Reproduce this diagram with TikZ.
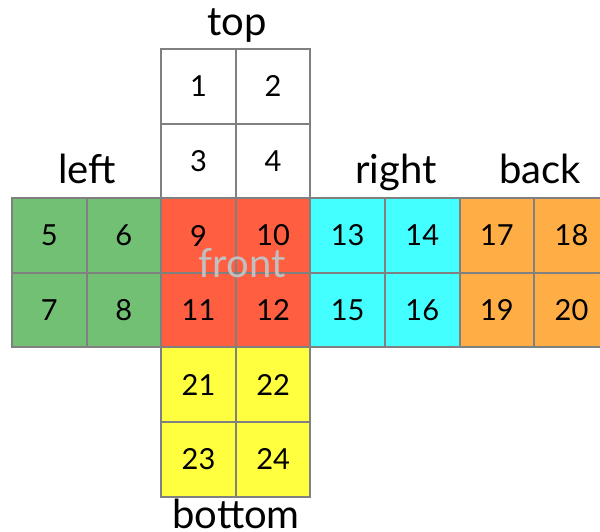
\documentclass[tikz,border=0pt]{standalone}
\usepackage{fontspec}
\setmainfont{Lato}
\definecolor{cgreen}{RGB}{114,192,116}
\definecolor{cred}{RGB}{255,94,64}
\definecolor{ccyan}{RGB}{68,255,255}
\definecolor{corange}{RGB}{255,173,69}
\definecolor{cyellow}{RGB}{255,255,64}
\definecolor{cline}{RGB}{128,128,128}
\definecolor{cfront}{RGB}{192,192,192}
\tikzset{
  cell/.style={draw=cline, line width=2pt, minimum width=74.6pt, minimum height=74.6pt,
    inner sep=0pt, font=\fontsize{29}{29}\selectfont},
  facelabel/.style={anchor=base, inner sep=0pt, font=\fontsize{40}{40}\selectfont},
}
\begin{document}
\begin{tikzpicture}[x=1pt,y=-1pt]
\useasboundingbox (0,0) rectangle (600,531);
\fill[white] (0,0) rectangle (600,531);
\def\s{74.6}
% cell centres: x = 12 + s*(col+0.5), y = 49 + s*(row+0.5)
\foreach \n/\c/\r/\col in {
  1/2/0/white, 2/3/0/white, 3/2/1/white, 4/3/1/white,
  5/0/2/cgreen, 6/1/2/cgreen, 7/0/3/cgreen, 8/1/3/cgreen,
  9/2/2/cred, 10/3/2/cred, 11/2/3/cred, 12/3/3/cred,
  13/4/2/ccyan, 14/5/2/ccyan, 15/4/3/ccyan, 16/5/3/ccyan,
  17/6/2/corange, 18/7/2/corange, 19/6/3/corange, 20/7/3/corange,
  21/2/4/cyellow, 22/3/4/cyellow, 23/2/5/cyellow, 24/3/5/cyellow}
{
  \node[cell, fill=\col] (c\n) at ({12+\s*(\c+0.5)},{49+\s*(\r+0.5)}) {\n};
}
\node[facelabel] (top) at (237,35) {top};
\node[facelabel] (left) at (87,183) {left};
\node[facelabel] (right) at (396,183) {right};
\node[facelabel] (back) at (540,183) {back};
\node[facelabel] (bottom) at (236,528) {bottom};
\node[facelabel, text=cfront] (front) at (242,277) {front};
\end{tikzpicture}
\end{document}
